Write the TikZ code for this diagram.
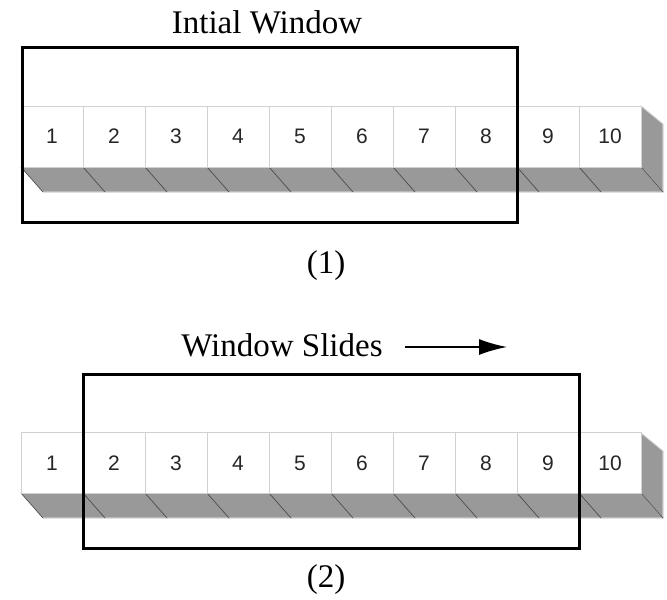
\documentclass[tikz,border=0pt]{standalone}
\usepackage{fontspec}
\setmainfont{Liberation Serif}
\newfontfamily\cellfont{Liberation Sans}
\usetikzlibrary{arrows.meta}
\definecolor{shade}{gray}{0.60}
\definecolor{cellline}{gray}{0.82}
\definecolor{edge}{gray}{0.30}
\tikzset{
  cellbox/.style={draw=cellline, line width=1pt, fill=white, minimum width=62pt, minimum height=61pt, inner sep=0pt, font=\cellfont\fontsize{21}{21}\selectfont, text=black!85},
  shadeface/.style={fill=shade, draw=cellline, line width=0.6pt},
  diag/.style={draw=edge, line width=0.7pt},
  frame/.style={draw=black, line width=3pt},
  title/.style={font=\fontsize{33}{33}\selectfont, inner sep=0pt},
}
\begin{document}
\begin{tikzpicture}[x=1pt,y=-1pt]
\useasboundingbox (0,0) rectangle (667,600);
% ---------- row 1 ----------
\fill[shadeface] (21,167) -- (641,167) -- (663,192) -- (43,192) -- cycle;
\fill[shadeface] (641,106) -- (663,124) -- (663,192) -- (641,167) -- cycle;
\draw[draw=cellline,line width=0.6pt] (641,106) -- (663,124) -- (663,192) -- (43,192);
\foreach \k in {0,...,10} {
  \draw[diag] ({21+62*\k},167) -- ({43+62*\k},192);
}
\foreach \i in {1,...,10} {
  \node[cellbox] (a\i) at ({21+62*(\i-0.5)},136.5) {\i};
}
\node[title] (t1) at (267,22) {Intial Window};
\draw[frame] (22,47) rectangle (517,222);
\node[title] (n1) at (326,266) {(1)};
% ---------- row 2 ----------
\fill[shadeface] (21,493) -- (641,493) -- (663,518) -- (43,518) -- cycle;
\fill[shadeface] (641,433) -- (663,451) -- (663,518) -- (641,493) -- cycle;
\draw[draw=cellline,line width=0.6pt] (641,433) -- (663,451) -- (663,518) -- (43,518);
\foreach \k in {0,...,10} {
  \draw[diag] ({21+62*\k},493) -- ({43+62*\k},518);
}
\foreach \i in {1,...,10} {
  \node[cellbox] (b\i) at ({21+62*(\i-0.5)},463) {\i};
}
\node[title] (t2) at (282,345) {Window Slides};
\coordinate (as) at (405,347);
\coordinate (ae) at (507,347);
\draw[line width=1.6pt, -{Latex[length=28pt,width=16pt]}] (as) -- (ae);
\draw[frame] (83,374) rectangle (579,548);
\node[title] (n2) at (326,580) {(2)};
\end{tikzpicture}
\end{document}
